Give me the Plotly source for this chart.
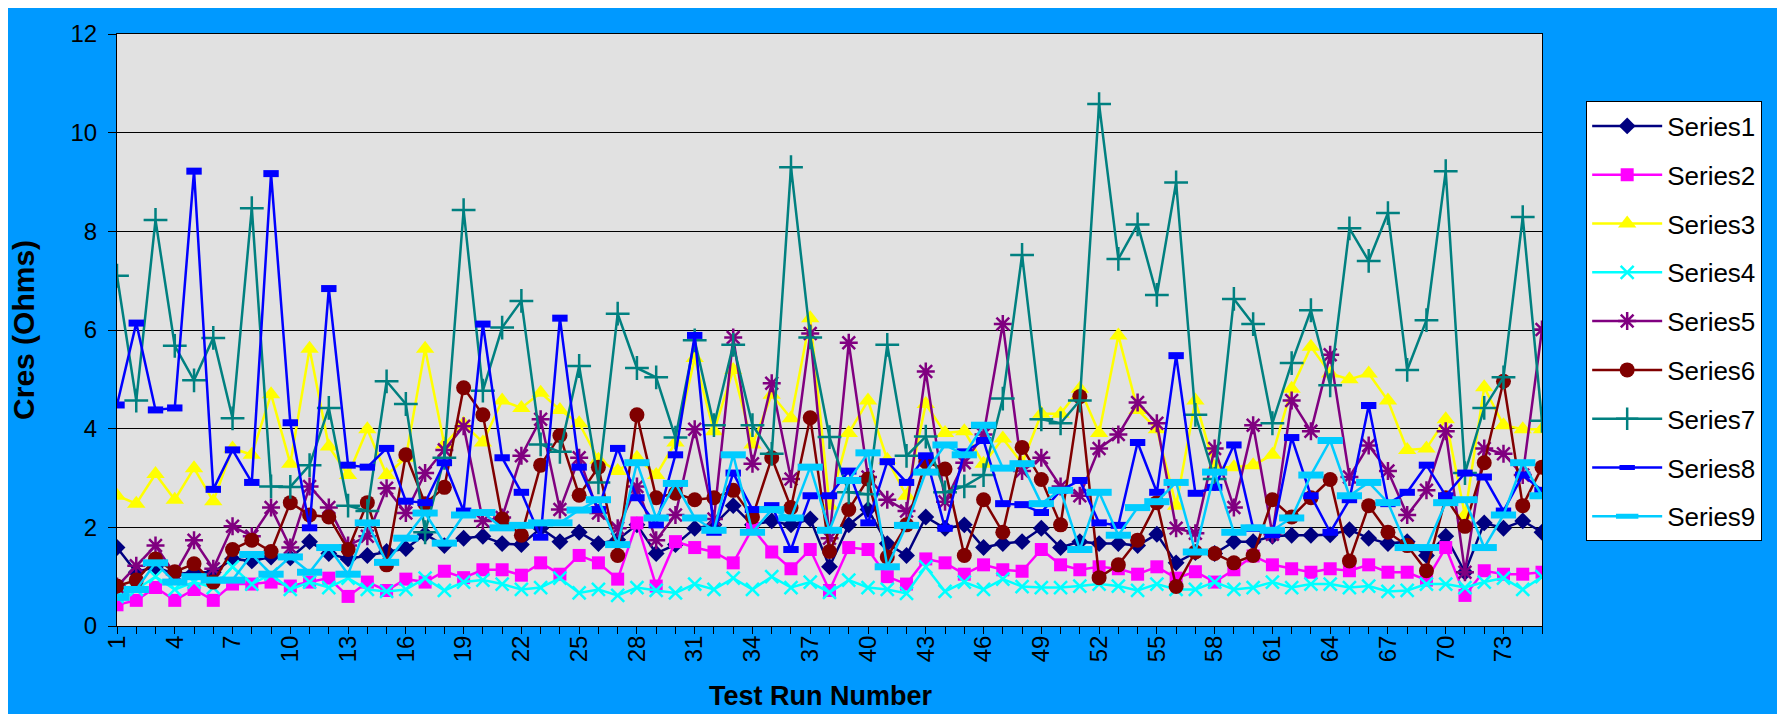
import plotly.graph_objects as go

run_numbers = list(range(1, 76))

series1 = [1.59, 1.09, 1.2, 1.05, 1.09, 1.09, 1.36, 1.32, 1.4, 1.38,
           1.71, 1.47, 1.36, 1.43, 1.51, 1.57, 1.86, 1.63, 1.78, 1.82,
           1.67, 1.65, 1.98, 1.71, 1.9, 1.67, 1.75, 2.05, 1.47, 1.65,
           1.98, 2.05, 2.44, 2.05, 2.13, 2.05, 2.17, 1.2, 2.05, 2.36,
           1.67, 1.43, 2.21, 1.98, 2.05, 1.59, 1.67, 1.71, 1.98, 1.59,
           1.71, 1.67, 1.67, 1.63, 1.86, 1.28, 1.49, 1.47, 1.71, 1.71,
           1.82, 1.84, 1.84, 1.85, 1.95, 1.78, 1.67, 1.71, 1.43, 1.82,
           1.09, 2.09, 1.98, 2.13, 1.9]
series2 = [0.43, 0.52, 0.78, 0.52, 0.74, 0.52, 0.85, 0.85, 0.89, 0.81,
           0.89, 0.97, 0.6, 0.89, 0.72, 0.95, 0.89, 1.11, 0.98, 1.14,
           1.14, 1.03, 1.28, 1.05, 1.43, 1.28, 0.95, 2.09, 0.81, 1.71,
           1.59, 1.5, 1.28, 1.98, 1.5, 1.16, 1.55, 0.72, 1.59, 1.55,
           1.0, 0.85, 1.36, 1.28, 1.05, 1.24, 1.14, 1.11, 1.55, 1.24,
           1.14, 1.2, 1.16, 1.05, 1.2, 0.97, 1.1, 0.89, 1.14, 1.42,
           1.24, 1.16, 1.09, 1.16, 1.12, 1.24, 1.09, 1.09, 0.93, 1.59,
           0.62, 1.12, 1.05, 1.05, 1.09]
series3 = [2.64, 2.48, 3.08, 2.56, 3.2, 2.53, 3.6, 3.47, 4.7, 3.29,
           5.62, 3.64, 3.06, 3.99, 3.06, 3.41, 5.62, 3.68, 4.1, 3.72,
           4.57, 4.42, 4.73, 4.38, 4.11, 3.37, 3.14, 3.41, 3.06, 3.72,
           5.43, 3.95, 5.19, 3.68, 4.69, 4.21, 6.24, 2.44, 3.91, 4.57,
           3.37, 2.64, 4.5, 3.91, 3.95, 3.29, 3.8, 3.3, 4.3, 4.3,
           4.81, 3.91, 5.89, 4.38, 3.99, 2.44, 4.57, 3.22, 3.22, 3.26,
           3.47, 4.81, 5.66, 5.12, 5.0, 5.12, 4.57, 3.57, 3.6, 4.19,
           2.25, 4.84, 4.07, 3.99, 3.99]
series4 = [0.6, 0.74, 1.0, 0.74, 0.89, 0.78, 1.2, 0.85, 1.05, 0.74,
           0.89, 0.78, 0.97, 0.74, 0.7, 0.74, 0.97, 0.72, 0.89, 0.93,
           0.85, 0.74, 0.78, 0.97, 0.67, 0.74, 0.62, 0.78, 0.72, 0.67,
           0.85, 0.74, 0.97, 0.74, 1.0, 0.78, 0.89, 0.68, 0.93, 0.78,
           0.74, 0.66, 1.2, 0.7, 0.89, 0.74, 0.95, 0.8, 0.78, 0.78,
           0.81, 0.85, 0.81, 0.72, 0.85, 0.74, 0.74, 0.89, 0.74, 0.78,
           0.89, 0.78, 0.85, 0.85, 0.78, 0.81, 0.7, 0.72, 0.85, 0.85,
           0.78, 0.89, 0.97, 0.74, 1.0]
series5 = [0.8, 1.22, 1.63, 1.05, 1.74, 1.16, 2.02, 1.82, 2.4, 1.59,
           2.83, 2.4, 1.63, 1.82, 2.79, 2.29, 3.1, 3.57, 4.05, 2.13,
           2.2, 3.45, 4.19, 2.36, 3.41, 2.29, 1.98, 2.83, 1.74, 2.25,
           3.99, 2.17, 5.85, 3.29, 4.92, 2.98, 5.93, 1.78, 5.74, 3.02,
           2.56, 2.33, 5.16, 2.52, 3.31, 3.88, 6.12, 3.14, 3.41, 2.83,
           2.64, 3.6, 3.88, 4.53, 4.11, 1.98, 1.88, 3.6, 2.4, 4.07,
           1.86, 4.57, 3.95, 5.5, 3.02, 3.66, 3.14, 2.25, 2.75, 3.95,
           1.09, 3.6, 3.49, 3.06, 6.01]
series6 = [0.81, 0.93, 1.36, 1.1, 1.26, 0.89, 1.55, 1.74, 1.51, 2.5,
           2.25, 2.21, 1.55, 2.5, 1.24, 3.47, 2.48, 2.81, 4.83, 4.28,
           2.17, 1.84, 3.26, 3.86, 2.65, 3.22, 1.43, 4.28, 2.6, 2.69,
           2.56, 2.6, 2.75, 2.21, 3.41, 2.4, 4.22, 1.51, 2.36, 2.98,
           1.4, 2.05, 3.33, 3.18, 1.43, 2.56, 1.9, 3.62, 2.97, 2.05,
           4.65, 0.98, 1.24, 1.74, 2.5, 0.8, 1.5, 1.47, 1.28, 1.43,
           2.56, 2.21, 2.6, 2.97, 1.32, 2.44, 1.9, 1.63, 1.12, 2.6,
           2.02, 3.31, 4.96, 2.44, 3.22]
series7 = [7.1, 4.57, 8.23, 5.68, 4.98, 5.84, 4.21, 8.47, 2.83, 2.82,
           3.26, 4.42, 2.44, 2.33, 4.96, 4.5, 1.9, 3.41, 8.43, 4.77,
           6.05, 6.59, 3.68, 3.53, 5.27, 2.91, 6.33, 5.23, 5.04, 3.82,
           5.79, 4.07, 5.7, 4.07, 3.49, 9.3, 5.85, 3.83, 2.71, 2.67,
           5.7, 3.45, 3.84, 2.71, 2.83, 3.06, 4.61, 7.52, 4.19, 4.11,
           4.57, 10.58, 7.44, 8.14, 6.71, 8.99, 4.28, 2.98, 6.63, 6.12,
           4.11, 5.33, 6.4, 4.88, 8.06, 7.4, 8.37, 5.19, 6.2, 9.22,
           3.1, 4.42, 5.04, 8.29, 4.16]
series8 = [4.48, 6.14, 4.38, 4.42, 9.22, 2.77, 3.57, 2.91, 9.17, 4.12,
           1.99, 6.84, 3.26, 3.22, 3.6, 2.53, 2.5, 3.31, 2.33, 6.12,
           3.41, 2.71, 1.8, 6.24, 3.22, 2.36, 3.6, 2.6, 2.05, 3.47,
           5.89, 1.9, 3.1, 2.36, 2.44, 1.55, 2.64, 2.64, 3.14, 2.09,
           3.33, 2.91, 3.45, 1.98, 3.53, 3.76, 2.48, 2.46, 2.3, 2.75,
           2.95, 2.09, 2.04, 3.72, 2.71, 5.48, 2.69, 2.81, 3.67, 1.98,
           1.85, 3.82, 2.64, 1.9, 2.56, 4.47, 2.48, 2.71, 3.26, 2.64,
           3.1, 3.02, 2.33, 3.06, 2.75]
series9 = [0.58, 0.74, 1.28, 0.89, 1.0, 0.93, 0.93, 1.45, 1.05, 1.4,
           1.09, 1.59, 1.05, 2.09, 1.29, 1.78, 2.29, 1.68, 2.25, 2.3,
           1.99, 2.04, 2.09, 2.09, 2.35, 2.56, 1.65, 3.31, 2.19, 2.89,
           2.19, 1.94, 3.47, 1.9, 2.36, 2.19, 3.22, 1.94, 2.95, 3.51,
           1.2, 2.04, 3.12, 3.67, 3.47, 4.07, 3.2, 3.29, 2.48, 2.75,
           1.55, 2.71, 1.84, 2.4, 2.52, 2.91, 1.5, 3.12, 1.9, 1.99,
           1.94, 2.19, 3.06, 3.76, 2.64, 2.91, 2.5, 1.59, 1.59, 2.5,
           2.56, 1.59, 2.25, 3.31, 2.64]

series_names = ["Series1", "Series2", "Series3", "Series4", "Series5",
                "Series6", "Series7", "Series8", "Series9"]
series_values = [series1, series2, series3, series4, series5,
                 series6, series7, series8, series9]
series_colors = ["#000080", "#FF00FF", "#FFFF00", "#00FFFF", "#800080",
                 "#800000", "#008080", "#0000FF", "#00CCFF"]
series_symbols = ["diamond", "square", "triangle-up", "x-thin-open", "asterisk-open",
                  "circle", "cross-thin-open", "line-ew-open", "line-ew-open"]
symbol_sizes = [13, 13, 16, 13, 15, 15, 17, 11, 18]
symbol_line_widths = [0, 0, 0, 2.5, 2.5, 0, 2.5, 7, 7]

x_tick_text = [str(v) if (v - 1) % 3 == 0 else "" for v in run_numbers]

FONT = "Arial, Liberation Sans, sans-serif"

fig = go.Figure()
for name, vals, col, sym, sz, lw in zip(series_names, series_values, series_colors,
                                       series_symbols, symbol_sizes, symbol_line_widths):
    fig.add_trace(go.Scatter(
        x=run_numbers, y=vals, name=name, mode="lines+markers",
        legendgroup=name,
        line=dict(color=col, width=2.5),
        marker=dict(symbol=sym, size=sz, color=col,
                    line=dict(color=col, width=lw)),
    ))

fig.update_layout(
    width=1785, height=714,
    paper_bgcolor="#0099FF",
    plot_bgcolor="#E1E1E1",
    margin=dict(l=109, r=251, t=20, b=96),
    font=dict(family=FONT, color="black", size=24),
    showlegend=True,
    legend=dict(
        x=1.031, y=0.886, xanchor="left", yanchor="top",
        bgcolor="white", bordercolor="black", borderwidth=1,
        font=dict(family=FONT, size=26, color="black"),
        tracegroupgap=12, itemwidth=70,
    ),
    annotations=[
        dict(text="<b>Cres (Ohms)</b>", xref="paper", yref="paper",
             x=-0.066, y=0.5, textangle=-90, showarrow=False,
             xanchor="center", yanchor="middle",
             font=dict(family=FONT, size=30, color="black")),
        dict(text="<b>Test Run Number</b>", xref="paper", yref="paper",
             x=0.494, y=-0.118, showarrow=False,
             xanchor="center", yanchor="middle",
             font=dict(family=FONT, size=27, color="black")),
    ],
)

fig.update_xaxes(
    range=[1, 75], tickmode="array", tickvals=run_numbers, ticktext=x_tick_text,
    tickangle=-90, ticks="outside", ticklen=7, tickcolor="black",
    showline=True, linecolor="black", linewidth=1, mirror=True,
    showgrid=False, zeroline=False,
    tickfont=dict(family=FONT, size=24, color="black"),
    ticklabelstandoff=-8,
)
fig.update_yaxes(
    range=[0, 12], dtick=2, ticks="outside", ticklen=8, tickcolor="black",
    showline=True, linecolor="black", linewidth=1, mirror=True,
    showgrid=True, gridcolor="black", gridwidth=1, zeroline=False,
    tickfont=dict(family=FONT, size=24, color="black"),
    ticklabelstandoff=6,
)

fig.write_html("out.html")
